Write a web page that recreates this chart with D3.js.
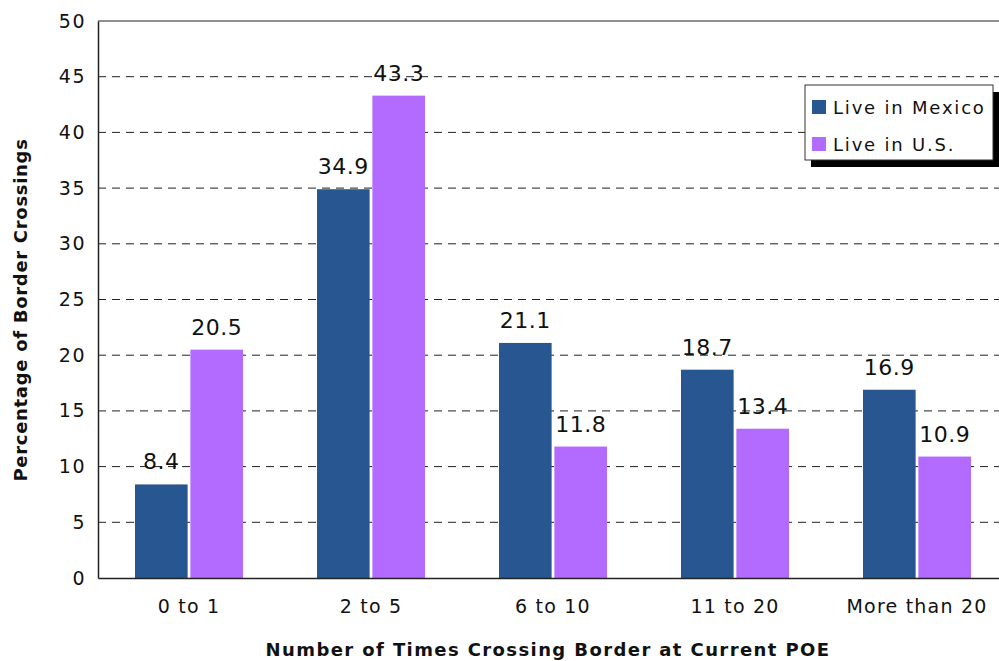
<!DOCTYPE html>
<html><head><meta charset="utf-8">
<script src="https://cdn.jsdelivr.net/npm/d3@7"></script>
<style>body{margin:0;background:#fff;}svg{display:block;font-family:"DejaVu Sans",Verdana,sans-serif;}</style>
</head><body>
<svg id="c" width="999" height="661"></svg>
<script>
const categories = ["0 to 1","2 to 5","6 to 10","11 to 20","More than 20"];
const seriesNames = ["Live in Mexico","Live in U.S."];
const mexico = [8.4,34.9,21.1,18.7,16.9];
const us = [20.5,43.3,11.8,13.4,10.9];
const yTicks = [0,5,10,15,20,25,30,35,40,45,50];
const colors = ["#285690","#b26aff"];

const svg = d3.select("#c");
const m = {l:98, t:21, r:-9, b:83};
const W = 999 - m.l - m.r, H = 661 - m.t - m.b;
const g = svg.append("g").attr("transform",`translate(${m.l},${m.t})`);
const x = d3.scaleBand().domain(categories).range([0,W]).padding(0);
const x1 = d3.scaleBand().domain(seriesNames).range([0,108]).paddingInner(0.05);
const y = d3.scaleLinear().domain([0,50]).range([H,0]);

// gridlines
g.selectAll("line.grid").data(yTicks.filter(t=>t>0 && t<50)).join("line")
  .attr("x1",0).attr("x2",W).attr("y1",d=>y(d)).attr("y2",d=>y(d))
  .attr("stroke","#222").attr("stroke-dasharray","8,6").attr("stroke-width",1);
g.append("line").attr("x1",0).attr("x2",W).attr("y1",y(50)).attr("y2",y(50)).attr("stroke","#222");

const data = categories.map((c,i)=>({c, vals:[mexico[i],us[i]]}));
const grp = g.selectAll("g.grp").data(data).join("g")
  .attr("transform",d=>`translate(${x(d.c)+x.bandwidth()/2-54},0)`);
grp.selectAll("rect").data(d=>d.vals.map((v,j)=>({s:seriesNames[j],v,j}))).join("rect")
  .attr("x",d=>x1(d.s)).attr("width",x1.bandwidth())
  .attr("y",d=>y(d.v)).attr("height",d=>y(0)-y(d.v)).attr("fill",d=>colors[d.j]);
grp.selectAll("text").data(d=>d.vals.map((v,j)=>({s:seriesNames[j],v,j}))).join("text")
  .attr("x",d=>x1(d.s)+x1.bandwidth()/2).attr("y",d=>y(d.v)-15)
  .attr("text-anchor","middle").attr("font-size",22).attr("fill","#111").attr("letter-spacing",0.5)
  .text(d=>d.v.toFixed(1));

// axes
const ya = g.append("g").call(d3.axisLeft(y).tickValues(yTicks).tickSize(0).tickPadding(12));
ya.select(".domain").attr("stroke","#222").attr("stroke-width",1.5);
ya.selectAll("text").attr("font-size",19).attr("fill","#111").attr("font-family","DejaVu Sans").attr("letter-spacing",1.5);
const xa = g.append("g").attr("transform",`translate(0,${H})`).call(d3.axisBottom(x).tickSize(0).tickPadding(22));
xa.select(".domain").attr("stroke","#222").attr("stroke-width",1.5);
xa.selectAll("text").attr("font-size",19).attr("fill","#111").attr("font-family","DejaVu Sans").attr("letter-spacing",1.2);

svg.append("text").attr("x",548).attr("y",656).attr("text-anchor","middle")
  .attr("font-size",18).attr("font-weight","bold").attr("fill","#111").attr("letter-spacing",1.4)
  .text("Number of Times Crossing Border at Current POE");
svg.append("text").attr("transform","translate(27,310) rotate(-90)").attr("text-anchor","middle")
  .attr("font-size",18).attr("font-weight","bold").attr("fill","#111").attr("letter-spacing",0.7)
  .text("Percentage of Border Crossings");

// legend
const lg = svg.append("g").attr("transform","translate(805,85)");
lg.append("rect").attr("x",6).attr("y",7).attr("width",188).attr("height",75).attr("fill","#000");
lg.append("rect").attr("x",0).attr("y",0).attr("width",188).attr("height",75).attr("fill","#fff").attr("stroke","#333");
seriesNames.forEach((s,i)=>{
  lg.append("rect").attr("x",7).attr("y",15+i*37).attr("width",14).attr("height",14).attr("fill",colors[i]);
  lg.append("text").attr("x",28).attr("y",29+i*37).attr("font-size",18).attr("fill","#111").attr("letter-spacing",1.8).text(s);
});
</script>
</body></html>
